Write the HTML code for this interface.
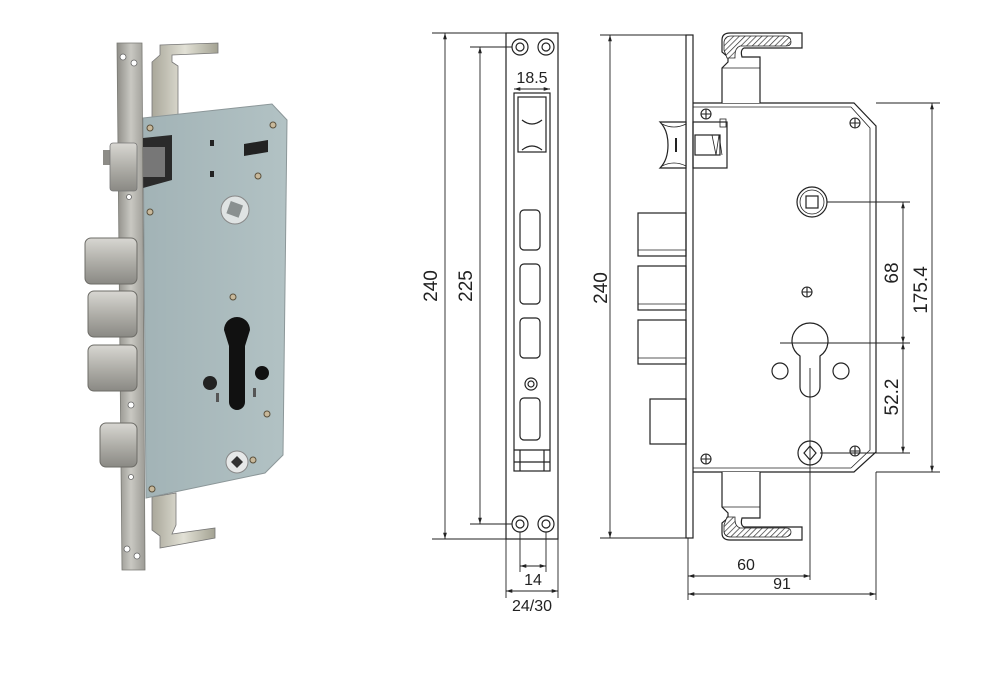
<!DOCTYPE html>
<html><head><meta charset="utf-8"><style>
html,body{margin:0;padding:0;background:#fff;}
svg{display:block}
text{font-family:"Liberation Sans",Arial,sans-serif;fill:#222;}
</style></head><body>
<svg width="1000" height="679" viewBox="0 0 1000 679" xmlns="http://www.w3.org/2000/svg">
<defs>
<linearGradient id="fp" x1="0" x2="1"><stop offset="0" stop-color="#8f8e88"/><stop offset=".5" stop-color="#c9c8c2"/><stop offset="1" stop-color="#9c9b95"/></linearGradient>
<linearGradient id="bolt" x1="0" y1="0" x2="0" y2="1"><stop offset="0" stop-color="#d8d7d2"/><stop offset=".5" stop-color="#b0afa9"/><stop offset="1" stop-color="#8a8984"/></linearGradient>
<linearGradient id="body" x1="0" x2="1"><stop offset="0" stop-color="#a2b3b6"/><stop offset="1" stop-color="#b2c2c4"/></linearGradient>
<linearGradient id="hk" x1="0" x2="1"><stop offset="0" stop-color="#a9a79a"/><stop offset=".5" stop-color="#e2e1d6"/><stop offset="1" stop-color="#a3a292"/></linearGradient>
<pattern id="hatch" width="4" height="4" patternUnits="userSpaceOnUse" patternTransform="rotate(45)"><rect width="4" height="4" fill="#fff"/><line x1="0" y1="0" x2="0" y2="4" stroke="#333" stroke-width="1.4"/></pattern>
<marker id="a" viewBox="0 0 10 10" refX="10" refY="5" markerWidth="7" markerHeight="7" orient="auto-start-reverse"><path d="M0,2 L10,5 L0,8 z" fill="#222"/></marker>
</defs>

<!-- ===== PHOTO ===== -->
<path d="M152,118 L152,62 L160,55 L160,45 L218,43 L218,53 L172,55 L172,62 L178,66 L178,116 Z" fill="url(#hk)" stroke="#777" stroke-width=".8"/>
<path d="M152,497 L152,530 L160,536 L160,548 L215,538 L215,528 L172,534 L176,525 L176,493 Z" fill="url(#hk)" stroke="#777" stroke-width=".8"/>
<path d="M143,118 L272,104 L287,120 L283,455 L265,473 L146,498 Z" fill="url(#body)" stroke="#8c9799" stroke-width="1"/>
<path d="M143,138 L172,135 L172,180 L143,188 Z" fill="#2a2a2a"/>
<rect x="143" y="147" width="22" height="30" fill="#777"/>
<path d="M117,43 L142,43 L145,570 L122,570 Z" fill="url(#fp)" stroke="#7a7a74" stroke-width=".8"/>
<g fill="#fff" stroke="#666" stroke-width=".8">
<circle cx="123" cy="57" r="3"/><circle cx="134" cy="63" r="3"/>
<circle cx="127" cy="549" r="3"/><circle cx="137" cy="556" r="3"/>
<circle cx="131" cy="405" r="3"/><circle cx="129" cy="197" r="2.5"/><circle cx="131" cy="477" r="2.5"/>
</g>
<rect x="103" y="150" width="8" height="15" fill="#8d8c87"/>
<rect x="110" y="143" width="27" height="48" rx="3" fill="url(#bolt)" stroke="#777" stroke-width=".8"/>
<rect x="85" y="238" width="52" height="46" rx="6" fill="url(#bolt)" stroke="#6d6c67"/>
<rect x="88" y="291" width="49" height="46" rx="6" fill="url(#bolt)" stroke="#6d6c67"/>
<rect x="88" y="345" width="49" height="46" rx="6" fill="url(#bolt)" stroke="#6d6c67"/>
<rect x="100" y="423" width="37" height="44" rx="6" fill="url(#bolt)" stroke="#6d6c67"/>
<rect x="210" y="140" width="4" height="6" fill="#222"/><rect x="210" y="171" width="4" height="6" fill="#222"/>
<path d="M244,144 L268,140 L268,152 L244,156 Z" fill="#222"/>
<circle cx="235" cy="210" r="14" fill="#dfe3e3" stroke="#888"/>
<rect x="228" y="203" width="13" height="13" fill="#8a9090" transform="rotate(20 235 210)"/>
<path d="M224,330 a13,13 0 1 1 26,0 L245,346 L245,402 a8,8 0 0 1 -16,0 L229,346 Z" fill="#111"/>
<circle cx="210" cy="383" r="7" fill="#222"/><circle cx="262" cy="373" r="7" fill="#111"/>
<rect x="216" y="393" width="3" height="9" fill="#555"/><rect x="253" y="388" width="3" height="9" fill="#555"/>
<circle cx="237" cy="462" r="11" fill="#e6e8e8" stroke="#888"/>
<path d="M231,462 L237,456 L243,462 L237,468 Z" fill="#333"/>
<g fill="#c8b89a" stroke="#5a503c" stroke-width="1">
<circle cx="150" cy="128" r="3"/><circle cx="273" cy="125" r="3"/><circle cx="258" cy="176" r="3"/>
<circle cx="150" cy="212" r="3"/><circle cx="233" cy="297" r="3"/><circle cx="267" cy="414" r="3"/>
<circle cx="253" cy="460" r="3"/><circle cx="152" cy="489" r="3"/>
</g>

<!-- ===== FRONT PLATE DRAWING ===== -->
<g fill="none" stroke="#222" stroke-width="1.2">
<rect x="506" y="33" width="52" height="506"/>
<rect x="514" y="93" width="36" height="378"/>
<rect x="518" y="97" width="28" height="55"/>
<path d="M522,120 q10,8 20,0 M522,150 q10,-8 20,0"/>
<rect x="520" y="210" width="20" height="40" rx="4"/>
<rect x="520" y="264" width="20" height="40" rx="4"/>
<rect x="520" y="318" width="20" height="40" rx="4"/>
<circle cx="531" cy="384" r="6"/><circle cx="531" cy="384" r="3"/>
<rect x="520" y="398" width="20" height="42" rx="4"/>
<line x1="514" y1="450" x2="550" y2="450"/><line x1="514" y1="462" x2="550" y2="462"/>
<line x1="520" y1="450" x2="520" y2="471"/><line x1="544" y1="450" x2="544" y2="471"/>
<circle cx="520" cy="47" r="8"/><circle cx="520" cy="47" r="4"/>
<circle cx="546" cy="47" r="8"/><circle cx="546" cy="47" r="4"/>
<circle cx="520" cy="524" r="8"/><circle cx="520" cy="524" r="4"/>
<circle cx="546" cy="524" r="8"/><circle cx="546" cy="524" r="4"/>
</g>
<g stroke="#222" stroke-width=".9" fill="none">
<line x1="432" y1="33" x2="506" y2="33"/><line x1="432" y1="539" x2="506" y2="539"/>
<line x1="445" y1="33" x2="445" y2="539" marker-start="url(#a)" marker-end="url(#a)"/>
<line x1="470" y1="47" x2="512" y2="47"/><line x1="470" y1="524" x2="512" y2="524"/>
<line x1="480" y1="47" x2="480" y2="524" marker-start="url(#a)" marker-end="url(#a)"/>
<line x1="514" y1="89" x2="550" y2="89" marker-start="url(#a)" marker-end="url(#a)"/>
<line x1="520" y1="532" x2="520" y2="572"/><line x1="546" y1="532" x2="546" y2="572"/>
<line x1="520" y1="566" x2="546" y2="566" marker-start="url(#a)" marker-end="url(#a)"/>
<line x1="506" y1="539" x2="506" y2="598"/><line x1="558" y1="539" x2="558" y2="598"/>
<line x1="506" y1="591" x2="558" y2="591" marker-start="url(#a)" marker-end="url(#a)"/>
</g>
<text x="532" y="83" font-size="16" text-anchor="middle">18.5</text>
<text x="533" y="585" font-size="16" text-anchor="middle">14</text>
<text x="532" y="611" font-size="16" text-anchor="middle">24/30</text>
<text transform="translate(437,286) rotate(-90)" font-size="19" text-anchor="middle">240</text>
<text transform="translate(472,286) rotate(-90)" font-size="19" text-anchor="middle">225</text>

<!-- ===== SIDE DRAWING ===== -->
<g fill="none" stroke="#222" stroke-width="1.2">
<rect x="686" y="35" width="7" height="503" fill="#fff"/>
<path d="M693,103 L854,103 L876,126 L876,452 L854,472 L693,472"/>
<path d="M851,107 L870,128 L870,450 L851,468" stroke-width=".8"/>
<line x1="693" y1="107" x2="851" y2="107" stroke-width=".8"/>
<line x1="693" y1="468" x2="851" y2="468" stroke-width=".8"/>
<path d="M722,103 L722,68 L728,62 L728,57 L722,52 L722,40 Q722,33 730,33 L802,33 L802,48 L744,48 Q740,50 742,57 L760,57 L760,103" fill="#fff"/>
<path d="M724,50 L724,42 Q725,36 731,36 L786,36 Q791,37 791,42 Q791,46 786,46 L740,46 Q735,48 735,55 L735,58 L727,58 Z" fill="url(#hatch)" stroke-width=".8"/>
<line x1="722" y1="68" x2="760" y2="68" stroke-width=".8"/>
<path d="M722,472 L722,507 L728,513 L728,518 L722,523 L722,533 Q722,540 730,540 L802,540 L802,527 L744,527 Q740,525 742,518 L760,518 L760,472" fill="#fff"/>
<path d="M724,525 L724,532 Q725,537 731,537 L786,537 Q791,536 791,532 Q791,528 786,528 L740,528 Q735,526 735,520 L735,517 L727,517 Z" fill="url(#hatch)" stroke-width=".8"/>
<line x1="722" y1="507" x2="760" y2="507" stroke-width=".8"/>
<path d="M660,122 L686,122 L686,168 L660,168 Q668,160 668,145 Q668,130 660,122 Z" fill="#fff"/>
<path d="M662,124 q12,6 24,0 M662,166 q12,-6 24,0" stroke-width=".8"/>
<line x1="676" y1="138" x2="676" y2="152" stroke-width="2"/>
<rect x="693" y="122" width="34" height="46"/>
<rect x="695" y="135" width="25" height="20"/>
<path d="M712,135 L716,155 L719,135 L722,155" stroke-width=".8"/>
<rect x="720" y="119" width="6" height="8" stroke-width=".8"/>
<rect x="638" y="213" width="48" height="43"/><line x1="638" y1="250" x2="686" y2="250" stroke-width=".7"/>
<rect x="638" y="266" width="48" height="44"/><line x1="638" y1="304" x2="686" y2="304" stroke-width=".7"/>
<rect x="638" y="320" width="48" height="44"/><line x1="638" y1="358" x2="686" y2="358" stroke-width=".7"/>
<rect x="650" y="399" width="36" height="45"/>
<circle cx="812" cy="202" r="15"/><circle cx="812" cy="202" r="12" stroke-width=".8"/>
<rect x="806" y="196" width="12" height="12"/>
<path d="M800,356 A18,18 0 1 1 820,356 L820,387 A10,10 0 0 1 800,387 Z"/>
<circle cx="780" cy="371" r="8"/><circle cx="841" cy="371" r="8"/>
<circle cx="810" cy="453" r="12"/>
<path d="M804,453 L810,446 L816,453 L810,460 Z"/>
</g>
<g fill="none" stroke="#222" stroke-width="1.1">
<g transform="translate(706,114)"><circle r="5"/><path d="M-5,0H5M0,-5V5"/></g>
<g transform="translate(855,123)"><circle r="5"/><path d="M-5,0H5M0,-5V5"/></g>
<g transform="translate(807,292)"><circle r="5"/><path d="M-5,0H5M0,-5V5"/></g>
<g transform="translate(706,459)"><circle r="5"/><path d="M-5,0H5M0,-5V5"/></g>
<g transform="translate(855,451)"><circle r="5"/><path d="M-5,0H5M0,-5V5"/></g>
</g>
<g stroke="#222" stroke-width=".9" fill="none">
<line x1="600" y1="35" x2="686" y2="35"/><line x1="600" y1="538" x2="686" y2="538"/>
<line x1="610" y1="35" x2="610" y2="538" marker-start="url(#a)" marker-end="url(#a)"/>
<line x1="827" y1="202" x2="910" y2="202"/>
<line x1="780" y1="343" x2="910" y2="343"/>
<line x1="820" y1="453" x2="910" y2="453"/>
<line x1="903" y1="202" x2="903" y2="343" marker-start="url(#a)" marker-end="url(#a)"/>
<line x1="903" y1="343" x2="903" y2="453" marker-start="url(#a)" marker-end="url(#a)"/>
<line x1="876" y1="103" x2="940" y2="103"/><line x1="876" y1="472" x2="940" y2="472"/>
<line x1="932" y1="103" x2="932" y2="472" marker-start="url(#a)" marker-end="url(#a)"/>
<line x1="810" y1="368" x2="810" y2="580"/>
<line x1="688" y1="538" x2="688" y2="600"/><line x1="876" y1="472" x2="876" y2="600"/>
<line x1="688" y1="576" x2="810" y2="576" marker-start="url(#a)" marker-end="url(#a)"/>
<line x1="688" y1="594" x2="876" y2="594" marker-start="url(#a)" marker-end="url(#a)"/>
</g>
<text transform="translate(607,288) rotate(-90)" font-size="19" text-anchor="middle">240</text>
<text transform="translate(898,273) rotate(-90)" font-size="19" text-anchor="middle">68</text>
<text transform="translate(927,290) rotate(-90)" font-size="19" text-anchor="middle">175.4</text>
<text transform="translate(898,397) rotate(-90)" font-size="19" text-anchor="middle">52.2</text>
<text x="746" y="570" font-size="16" text-anchor="middle">60</text>
<text x="782" y="589" font-size="16" text-anchor="middle">91</text>
</svg>
</body></html>
